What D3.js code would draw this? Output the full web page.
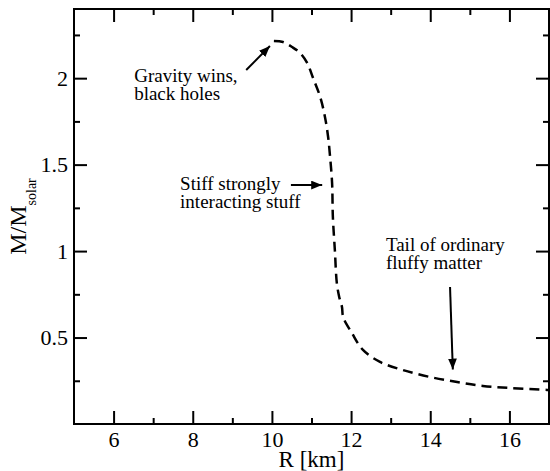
<!DOCTYPE html>
<html>
<head>
<meta charset="utf-8">
<script src="https://cdn.jsdelivr.net/npm/d3@7"></script>
<style>
  body { margin: 0; background: #fff; }
</style>
</head>
<body>
<svg id="chart" width="550" height="471"></svg>
<script>
// mass-radius curve
const radius = [10.05, 10.28, 10.51, 10.71, 10.89, 11.04, 11.22, 11.34, 11.42, 11.47, 11.52, 11.54, 11.59, 11.64, 11.70, 11.77, 11.80, 12.02, 12.30, 12.73, 13.31, 13.99, 14.68, 15.33, 16.02, 16.95, 17.2];
const mass   = [2.215, 2.209, 2.180, 2.146, 2.088, 2.001, 1.891, 1.776, 1.660, 1.544, 1.394, 1.197, 1.006, 0.815, 0.735, 0.677, 0.619, 0.526, 0.428, 0.359, 0.312, 0.272, 0.243, 0.220, 0.208, 0.197, 0.194];

const xMajor = [6, 8, 10, 12, 14, 16];
const xMinor = [7, 9, 11, 13, 15];
const yMajor = [0.5, 1, 1.5, 2];
const yMinor = [0.25, 0.75, 1.25, 1.75, 2.25];
const yTickLabels = ["0.5", "1", "1.5", "2"];

const noteLines = [["Gravity wins,", "black holes"], ["Stiff strongly", "interacting stuff"], ["Tail of ordinary", "fluffy matter"]];
const noteAt = [[6.52, 1.98], [7.68, 1.353], [12.88, 1.0]];
const arrowFrom = [[9.35, 2.047], [10.48, 1.382], [14.50, 0.792]];
const arrowTo = [[9.95, 2.186], [11.27, 1.382], [14.57, 0.315]];

const serif = '"Liberation Serif"';
const width = 550, height = 471;
const margin = {top: 9, right: 1, bottom: 47, left: 74};

const svg = d3.select("#chart").style("font-family", serif);

const x = d3.scaleLinear().domain([5, 17]).range([margin.left, width - margin.right]);
const y = d3.scaleLinear().domain([0, 2.4]).range([height - margin.bottom, margin.top]);

const defs = svg.append("defs");
defs.append("clipPath").attr("id", "clip")
  .append("rect")
  .attr("x", x(5)).attr("y", y(2.4))
  .attr("width", x(17) - x(5)).attr("height", y(0) - y(2.4));

const marker = defs.append("marker")
  .attr("id", "head")
  .attr("markerUnits", "userSpaceOnUse")
  .attr("viewBox", "0 0 10 8")
  .attr("refX", 10).attr("refY", 4)
  .attr("markerWidth", 11).attr("markerHeight", 9)
  .attr("orient", "auto");
marker.append("path").attr("d", "M0,0L10,4L0,8Z").attr("fill", "#000");

// ticks on all four sides, pointing inward
function styleAxis(g) {
  g.attr("font-family", null).attr("font-size", null);
  g.select(".domain").remove();
  g.selectAll("line").attr("stroke", "#000").attr("stroke-width", 2);
  g.selectAll("text").attr("fill", "#000").attr("font-size", 22).style("font-family", serif);
}

const axBottom = svg.append("g").attr("transform", `translate(0,${y(0)})`);
axBottom.call(d3.axisBottom(x).tickValues(xMajor).tickSize(-13).tickPadding(7).tickFormat(d3.format("d"))).call(styleAxis);
axBottom.append("g").call(d3.axisBottom(x).tickValues(xMinor).tickSize(-6).tickFormat("")).call(styleAxis);

const axTop = svg.append("g").attr("transform", `translate(0,${y(2.4)})`);
axTop.call(d3.axisTop(x).tickValues(xMajor).tickSize(-13).tickFormat("")).call(styleAxis);
axTop.append("g").call(d3.axisTop(x).tickValues(xMinor).tickSize(-6).tickFormat("")).call(styleAxis);

const axLeft = svg.append("g").attr("transform", `translate(${x(5)},0)`);
axLeft.call(d3.axisLeft(y).tickValues(yMajor).tickSize(-13).tickPadding(6).tickFormat((d, i) => yTickLabels[i])).call(styleAxis);
axLeft.append("g").call(d3.axisLeft(y).tickValues(yMinor).tickSize(-6).tickFormat("")).call(styleAxis);

const axRight = svg.append("g").attr("transform", `translate(${x(17)},0)`);
axRight.call(d3.axisRight(y).tickValues(yMajor).tickSize(-13).tickFormat("")).call(styleAxis);
axRight.append("g").call(d3.axisRight(y).tickValues(yMinor).tickSize(-6).tickFormat("")).call(styleAxis);

svg.append("rect")
  .attr("x", x(5)).attr("y", y(2.4))
  .attr("width", x(17) - x(5)).attr("height", y(0) - y(2.4))
  .attr("fill", "none").attr("stroke", "#000").attr("stroke-width", 2);

// the curve
const line = d3.line()
  .x((d, i) => x(radius[i]))
  .y((d, i) => y(mass[i]))
  .curve(d3.curveCatmullRom.alpha(0.5));

svg.append("path")
  .datum(radius)
  .attr("clip-path", "url(#clip)")
  .attr("d", line)
  .attr("fill", "none")
  .attr("stroke", "#000")
  .attr("stroke-width", 2.5)
  .attr("stroke-dasharray", "10,6");

// annotations
noteLines.forEach((lines, i) => {
  const t = svg.append("text")
    .attr("x", x(noteAt[i][0]))
    .attr("y", y(noteAt[i][1]))
    .attr("font-size", 19)
    .style("font-family", serif);
  lines.forEach((s, j) => {
    t.append("tspan").attr("x", x(noteAt[i][0])).attr("dy", j ? 18 : 0).text(s);
  });
  svg.append("line")
    .attr("x1", x(arrowFrom[i][0])).attr("y1", y(arrowFrom[i][1]))
    .attr("x2", x(arrowTo[i][0])).attr("y2", y(arrowTo[i][1]))
    .attr("stroke", "#000").attr("stroke-width", 2)
    .attr("marker-end", "url(#head)");
});

// axis titles
svg.append("text")
  .attr("x", (x(5) + x(17)) / 2)
  .attr("y", 467)
  .attr("text-anchor", "middle")
  .attr("font-size", 23)
  .style("font-family", serif)
  .text("R [km]");

const yl = svg.append("text")
  .attr("transform", `translate(26,${(y(0) + y(2.4)) / 2}) rotate(-90)`)
  .attr("text-anchor", "middle")
  .attr("font-size", 24)
  .style("font-family", serif)
  .text("M/M");
yl.append("tspan").attr("dy", 10).attr("font-size", 14).text("solar");
</script>
</body>
</html>
